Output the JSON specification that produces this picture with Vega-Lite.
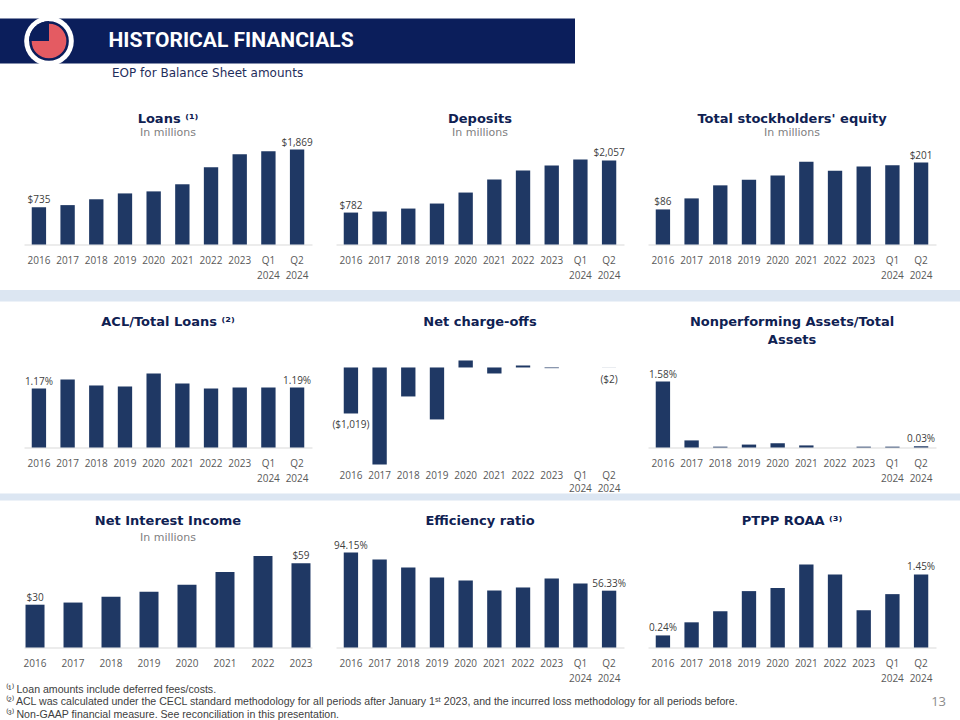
{
  "$schema": "https://vega.github.io/schema/vega-lite/v6.json",
  "background": "white",
  "padding": {"top": 15.5, "left": 0, "right": 0, "bottom": 0},
  "spacing": 0,
  "center": true,
  "config": {
    "view": {"stroke": null},
    "font": "Open Sans",
    "axisX": {"title": null, "labelAngle": 0, "ticks": false, "domainColor": "#d9d9d9", "domainWidth": 1, "labelColor": "#595959", "labelFontSize": 10, "labelFont": "Open Sans", "labelPadding": 10.5, "labelBaseline": "top", "labelLineHeight": 15, "grid": false},
    "title": {"font": "DejaVu Sans", "fontSize": 13, "fontWeight": "bold", "color": "#0f2152", "subtitleFont": "DejaVu Sans", "subtitleFontSize": 11, "subtitleColor": "#7f7f7f", "subtitlePadding": 1, "frame": "group", "anchor": "middle"},
    "text": {"font": "Open Sans", "fontSize": 10, "color": "#404040"},
    "bar": {"color": "#1f3864"}
  },
  "vconcat": [
    {
      "hconcat": [
        {
          "width": 98, "height": 45,
          "data": {"values": [{}]},
          "layer": [
            {"mark": {"type": "rect", "color": "#0b1e5b"}, "encoding": {}},
            {"mark": {"type": "circle", "size": 2463, "color": "white", "opacity": 1}, "encoding": {}},
            {"mark": {"type": "circle", "size": 1385, "color": "#e45b62", "stroke": "#0b1e5b", "strokeWidth": 2.5, "opacity": 1}, "encoding": {}},
            {"mark": {"type": "arc", "radius": 20, "theta": -1.5708, "theta2": 0, "color": "#0b1e5b"}, "encoding": {}}
          ]
        },
        {
          "width": 266, "height": 45,
          "data": {"values": [{"text": "HISTORICAL FINANCIALS"}]},
          "layer": [
            {"mark": {"type": "rect", "color": "#0b1e5b"}, "encoding": {}},
            {"mark": {"type": "text", "color": "white", "font": "Roboto", "fontWeight": "bold", "fontSize": 21, "baseline": "middle"}, "encoding": {"text": {"field": "text"}}}
          ]
        },
        {"width": 211, "height": 45, "data": {"values": [{}]}, "mark": {"type": "rect", "color": "#0b1e5b"}, "encoding": {}},
        {"width": 385, "height": 45, "data": {"values": [{}]}, "mark": {"type": "rect", "color": "white"}, "encoding": {}}
      ],
      "spacing": 0,
      "bounds": "flush"
    },
    {
      "title": {"text": "EOP for Balance Sheet amounts", "anchor": "start", "frame": "bounds", "dx": 88, "offset": 32.6, "font": "DejaVu Sans", "fontSize": 12, "fontWeight": "normal", "color": "#1f2d5c"},
      "spacing": 24,
      "bounds": "flush",
      "hconcat": [
        {
          "width": 288, "height": 117,
          "title": {"text": "Loans ⁽¹⁾", "subtitle": "In millions", "offset": -10},
          "data": {"values": [
            {"period": "2016", "value": 735}, {"period": "2017", "value": 775}, {"period": "2018", "value": 890},
            {"period": "2019", "value": 1005}, {"period": "2020", "value": 1045}, {"period": "2021", "value": 1185},
            {"period": "2022", "value": 1520}, {"period": "2023", "value": 1775}, {"period": "Q1 2024", "value": 1835},
            {"period": "Q2 2024", "value": 1869}
          ]},
          "encoding": {
            "x": {"field": "period", "type": "nominal", "sort": null, "scale": {"paddingInner": 0.5, "paddingOuter": 0.27}, "axis": {"labelExpr": "split(datum.label, ' ')"}},
            "y": {"field": "value", "type": "quantitative", "scale": {"domain": [0, 2302], "nice": false}, "axis": null}
          },
          "layer": [
            {"mark": {"type": "bar"}},
            {"transform": [{"filter": {"field": "period", "oneOf": ["2016", "Q2 2024"]}}], "mark": {"type": "text", "baseline": "alphabetic", "dy": -4}, "encoding": {"text": {"field": "value", "type": "quantitative", "format": "$,.0f"}}}
          ]
        },
        {
          "width": 288, "height": 117,
          "title": {"text": "Deposits", "subtitle": "In millions", "offset": -10},
          "data": {"values": [
            {"period": "2016", "value": 782}, {"period": "2017", "value": 807}, {"period": "2018", "value": 880},
            {"period": "2019", "value": 1003}, {"period": "2020", "value": 1272}, {"period": "2021", "value": 1590},
            {"period": "2022", "value": 1810}, {"period": "2023", "value": 1932}, {"period": "Q1 2024", "value": 2080},
            {"period": "Q2 2024", "value": 2057}
          ]},
          "encoding": {
            "x": {"field": "period", "type": "nominal", "sort": null, "scale": {"paddingInner": 0.5, "paddingOuter": 0.27}, "axis": {"labelExpr": "split(datum.label, ' ')"}},
            "y": {"field": "value", "type": "quantitative", "scale": {"domain": [0, 2865], "nice": false}, "axis": null}
          },
          "layer": [
            {"mark": {"type": "bar"}},
            {"transform": [{"filter": {"field": "period", "oneOf": ["2016", "Q2 2024"]}}], "mark": {"type": "text", "baseline": "alphabetic", "dy": -4}, "encoding": {"text": {"field": "value", "type": "quantitative", "format": "$,.0f"}}}
          ]
        },
        {
          "width": 288, "height": 117,
          "title": {"text": "Total stockholders' equity", "subtitle": "In millions", "offset": -10},
          "data": {"values": [
            {"period": "2016", "value": 86}, {"period": "2017", "value": 113}, {"period": "2018", "value": 145},
            {"period": "2019", "value": 159}, {"period": "2020", "value": 169}, {"period": "2021", "value": 203},
            {"period": "2022", "value": 181}, {"period": "2023", "value": 191}, {"period": "Q1 2024", "value": 194},
            {"period": "Q2 2024", "value": 201}
          ]},
          "encoding": {
            "x": {"field": "period", "type": "nominal", "sort": null, "scale": {"paddingInner": 0.5, "paddingOuter": 0.27}, "axis": {"labelExpr": "split(datum.label, ' ')"}},
            "y": {"field": "value", "type": "quantitative", "scale": {"domain": [0, 286.8], "nice": false}, "axis": null}
          },
          "layer": [
            {"mark": {"type": "bar"}},
            {"transform": [{"filter": {"field": "period", "oneOf": ["2016", "Q2 2024"]}}], "mark": {"type": "text", "baseline": "alphabetic", "dy": -4}, "encoding": {"text": {"field": "value", "type": "quantitative", "format": "$,.0f"}}}
          ]
        }
      ]
    },
    {
      "width": 960, "height": 34.7,
      "data": {"values": [{"band": "divider"}]},
      "mark": {"type": "bar", "color": "#dce6f2"},
      "encoding": {"y": {"field": "band", "type": "nominal", "axis": null, "scale": {"paddingInner": 0, "paddingOuter": 1.979, "align": 0.408}}}
    },
    {
      "spacing": 24,
      "bounds": "flush",
      "hconcat": [
        {
          "width": 288, "height": 90,
          "title": {"text": "ACL/Total Loans ⁽²⁾", "offset": 28.6},
          "data": {"values": [
            {"period": "2016", "value": 0.0117}, {"period": "2017", "value": 0.0135}, {"period": "2018", "value": 0.0123},
            {"period": "2019", "value": 0.0121}, {"period": "2020", "value": 0.0147}, {"period": "2021", "value": 0.0127},
            {"period": "2022", "value": 0.0117}, {"period": "2023", "value": 0.0119}, {"period": "Q1 2024", "value": 0.0119},
            {"period": "Q2 2024", "value": 0.0119}
          ]},
          "encoding": {
            "x": {"field": "period", "type": "nominal", "sort": null, "scale": {"paddingInner": 0.5, "paddingOuter": 0.27}, "axis": {"labelExpr": "split(datum.label, ' ')"}},
            "y": {"field": "value", "type": "quantitative", "scale": {"domain": [0, 0.01785], "nice": false}, "axis": null}
          },
          "layer": [
            {"mark": {"type": "bar"}},
            {"transform": [{"filter": {"field": "period", "oneOf": ["2016", "Q2 2024"]}}], "mark": {"type": "text", "baseline": "alphabetic", "dy": -4}, "encoding": {"text": {"field": "value", "type": "quantitative", "format": ".2%"}}}
          ]
        },
        {
          "width": 288, "height": 108,
          "title": {"text": "Net charge-offs", "offset": 28.6},
          "data": {"values": [
            {"period": "2016", "value": -1019}, {"period": "2017", "value": -2148}, {"period": "2018", "value": -642},
            {"period": "2019", "value": -1151}, {"period": "2020", "value": 155}, {"period": "2021", "value": -133},
            {"period": "2022", "value": 44}, {"period": "2023", "value": -15}, {"period": "Q1 2024", "value": 0},
            {"period": "Q2 2024", "value": -2}
          ]},
          "encoding": {
            "x": {"field": "period", "type": "nominal", "sort": null, "scale": {"paddingInner": 0.5, "paddingOuter": 0.27}, "axis": {"labelExpr": "split(datum.label, ' ')", "domain": false, "labelPadding": 4.7, "labelLineHeight": 13}},
            "y": {"field": "value", "type": "quantitative", "scale": {"domain": [-2171, 221], "nice": false, "zero": false}, "axis": null}
          },
          "layer": [
            {"mark": {"type": "rule", "color": "#d9d9d9", "strokeWidth": 1}, "encoding": {"y": {"datum": 0}}},
            {"mark": {"type": "bar"}},
            {"transform": [{"filter": {"field": "period", "oneOf": ["2016", "Q2 2024"]}}], "mark": {"type": "text", "baseline": "top", "dy": 7}, "encoding": {"text": {"field": "value", "type": "quantitative", "format": "($,.0f"}}}
          ]
        },
        {
          "width": 288, "height": 90,
          "title": {"text": ["Nonperforming Assets/Total", "Assets"], "lineHeight": 18, "offset": 10.6},
          "data": {"values": [
            {"period": "2016", "value": 0.0158}, {"period": "2017", "value": 0.0017}, {"period": "2018", "value": 0.0002},
            {"period": "2019", "value": 0.0007}, {"period": "2020", "value": 0.001}, {"period": "2021", "value": 0.0005},
            {"period": "2022", "value": 0}, {"period": "2023", "value": 0.0002}, {"period": "Q1 2024", "value": 0.0002},
            {"period": "Q2 2024", "value": 0.0003}
          ]},
          "encoding": {
            "x": {"field": "period", "type": "nominal", "sort": null, "scale": {"paddingInner": 0.5, "paddingOuter": 0.27}, "axis": {"labelExpr": "split(datum.label, ' ')"}},
            "y": {"field": "value", "type": "quantitative", "scale": {"domain": [0, 0.02155], "nice": false}, "axis": null}
          },
          "layer": [
            {"mark": {"type": "bar"}},
            {"transform": [{"filter": {"field": "period", "oneOf": ["2016", "Q2 2024"]}}], "mark": {"type": "text", "baseline": "alphabetic", "dy": -4}, "encoding": {"text": {"field": "value", "type": "quantitative", "format": ".2%"}}}
          ]
        }
      ]
    },
    {
      "width": 960, "height": 20.5,
      "data": {"values": [{"band": "divider"}]},
      "mark": {"type": "bar", "color": "#dce6f2"},
      "encoding": {"y": {"field": "band", "type": "nominal", "axis": null, "scale": {"paddingInner": 0, "paddingOuter": 0.964, "align": 0}}}
    },
    {
      "spacing": 24,
      "bounds": "flush",
      "hconcat": [
        {
          "width": 288, "height": 115,
          "title": {"text": "Net Interest Income", "subtitle": "In millions", "subtitlePadding": 4, "offset": -10.4},
          "data": {"values": [
            {"period": "2016", "value": 30}, {"period": "2017", "value": 31.5}, {"period": "2018", "value": 35.6},
            {"period": "2019", "value": 39}, {"period": "2020", "value": 44}, {"period": "2021", "value": 53},
            {"period": "2022", "value": 64.2}, {"period": "2023", "value": 59}
          ]},
          "encoding": {
            "x": {"field": "period", "type": "nominal", "sort": null, "scale": {"paddingInner": 0.5, "paddingOuter": 0.04}, "axis": {"labelExpr": "split(datum.label, ' ')"}},
            "y": {"field": "value", "type": "quantitative", "scale": {"domain": [0, 80.6], "nice": false}, "axis": null}
          },
          "layer": [
            {"mark": {"type": "bar"}},
            {"transform": [{"filter": {"field": "period", "oneOf": ["2016", "2023"]}}], "mark": {"type": "text", "baseline": "alphabetic", "dy": -4}, "encoding": {"text": {"field": "value", "type": "quantitative", "format": "$,.0f"}}}
          ]
        },
        {
          "width": 288, "height": 115,
          "title": {"text": "Efficiency ratio", "offset": 4.6},
          "data": {"values": [
            {"period": "2016", "value": 0.9415}, {"period": "2017", "value": 0.872}, {"period": "2018", "value": 0.793},
            {"period": "2019", "value": 0.694}, {"period": "2020", "value": 0.664}, {"period": "2021", "value": 0.565},
            {"period": "2022", "value": 0.595}, {"period": "2023", "value": 0.684}, {"period": "Q1 2024", "value": 0.634},
            {"period": "Q2 2024", "value": 0.5633}
          ]},
          "encoding": {
            "x": {"field": "period", "type": "nominal", "sort": null, "scale": {"paddingInner": 0.5, "paddingOuter": 0.27}, "axis": {"labelExpr": "split(datum.label, ' ')"}},
            "y": {"field": "value", "type": "quantitative", "scale": {"domain": [0, 1.14], "nice": false}, "axis": null}
          },
          "layer": [
            {"mark": {"type": "bar"}},
            {"transform": [{"filter": {"field": "period", "oneOf": ["2016", "Q2 2024"]}}], "mark": {"type": "text", "baseline": "alphabetic", "dy": -4}, "encoding": {"text": {"field": "value", "type": "quantitative", "format": ".2%"}}}
          ]
        },
        {
          "width": 288, "height": 115,
          "title": {"text": "PTPP ROAA ⁽³⁾", "offset": 4.6},
          "data": {"values": [
            {"period": "2016", "value": 0.0024}, {"period": "2017", "value": 0.005}, {"period": "2018", "value": 0.0072},
            {"period": "2019", "value": 0.0112}, {"period": "2020", "value": 0.0118}, {"period": "2021", "value": 0.0165},
            {"period": "2022", "value": 0.0145}, {"period": "2023", "value": 0.0074}, {"period": "Q1 2024", "value": 0.0106},
            {"period": "Q2 2024", "value": 0.0145}
          ]},
          "encoding": {
            "x": {"field": "period", "type": "nominal", "sort": null, "scale": {"paddingInner": 0.5, "paddingOuter": 0.27}, "axis": {"labelExpr": "split(datum.label, ' ')"}},
            "y": {"field": "value", "type": "quantitative", "scale": {"domain": [0, 0.02284], "nice": false}, "axis": null}
          },
          "layer": [
            {"mark": {"type": "bar"}},
            {"transform": [{"filter": {"field": "period", "oneOf": ["2016", "Q2 2024"]}}], "mark": {"type": "text", "baseline": "alphabetic", "dy": -4}, "encoding": {"text": {"field": "value", "type": "quantitative", "format": ".2%"}}}
          ]
        }
      ]
    },
    {
      "width": 960, "height": 37.5,
      "data": {"values": [
        {"part": "note", "line": 1, "text": "⁽¹⁾ Loan amounts include deferred fees/costs."},
        {"part": "note", "line": 2, "text": "⁽²⁾ ACL was calculated under the CECL standard methodology for all periods after January 1ˢᵗ 2023, and the incurred loss methodology for all periods before."},
        {"part": "note", "line": 3, "text": "⁽³⁾ Non-GAAP financial measure. See reconciliation in this presentation."},
        {"part": "page", "line": 2, "text": "13"}
      ]},
      "encoding": {
        "y": {"field": "line", "type": "ordinal", "axis": null, "scale": {"type": "point", "padding": 0.5}},
        "x": {"field": "part", "type": "nominal", "axis": null, "scale": {"type": "point", "padding": 0, "domain": ["note", "page"]}}
      },
      "layer": [
        {"transform": [{"filter": "datum.part == 'note'"}], "mark": {"type": "text", "align": "left", "baseline": "middle", "dx": 6, "font": "Liberation Sans", "fontSize": 10.6, "color": "#404040"}, "encoding": {"text": {"field": "text"}}},
        {"transform": [{"filter": "datum.part == 'page'"}], "mark": {"type": "text", "align": "right", "baseline": "middle", "dx": -14, "font": "Open Sans", "fontSize": 13, "color": "#8c8c8c"}, "encoding": {"text": {"field": "text"}}}
      ]
    }
  ]
}
